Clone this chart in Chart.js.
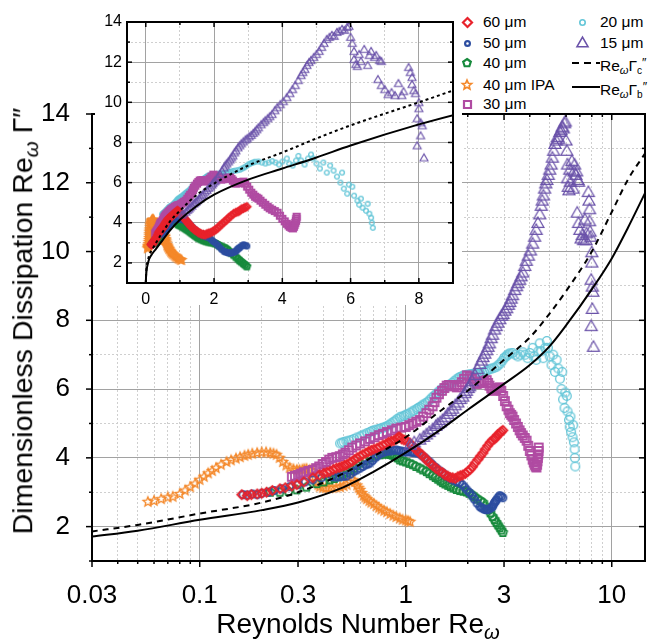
<!DOCTYPE html>
<html>
<head>
<meta charset="utf-8">
<title>Dimensionless dissipation vs Reynolds number</title>
<script src="https://cdn.jsdelivr.net/npm/chart.js@4.4.1/dist/chart.umd.min.js"></script>
<style>
html, body { margin: 0; padding: 0; background: #fff; }
body { font-family: 'Liberation Sans', Arial, Helvetica, sans-serif; color: #000; }
#wrap { position: relative; width: 651px; height: 641px; overflow: hidden; }
#main { position: absolute; left: 0; top: 0; }
#inset { position: absolute; left: 95px; top: 0; background: #fff; }
#legend { position: absolute; left: 455px; top: 0; width: 196px; height: 112px; background: #fff; font-size: 15.5px; }
.row { position: absolute; white-space: nowrap; line-height: 16px; }
.sym { position: absolute; }
.title { position: absolute; white-space: nowrap; line-height: 1; }
#xtitle { left: 358px; top: 626px; font-size: 28px; transform: translate(-50%, -50%); }
#ytitle { left: 25px; top: 321px; font-size: 28.5px; transform: translate(-50%, -50%) rotate(-90deg); }
.w { font-style: italic; font-size: 0.72em; vertical-align: -0.3em; }
.s { font-size: 0.65em; vertical-align: -0.3em; }
.p { font-size: 0.8em; vertical-align: 0.3em; }
</style>
</head>
<body>
<div id="wrap">
  <canvas id="main" width="651" height="641"></canvas>
  <canvas id="inset" width="367" height="305"></canvas>
  <div id="legend"></div>
  <div class="title" id="ytitle">Dimensionless Dissipation Re<span class="w">ω</span> Γ″</div>
  <div class="title" id="xtitle">Reynolds Number Re<span class="w">ω</span></div>
</div>
<script>
const FONT = "'Liberation Sans', Arial, Helvetica, sans-serif";

// [Re_omega, Re_omega * Gamma''] per film thickness
const s60 = [[0.16,2.93],[0.17,2.9],[0.178,2.93],[0.19,2.95],[0.2,2.97],[0.211,3.0],[0.225,3.05],[0.245,3.1],[0.26,3.13],[0.28,3.18],
  [0.296,3.22],[0.32,3.3],[0.354,3.42],[0.38,3.5],[0.4,3.55],[0.415,3.58],[0.428,3.6],[0.445,3.66],[0.46,3.7],[0.475,3.72],
  [0.49,3.75],[0.505,3.78],[0.517,3.8],[0.535,3.86],[0.55,3.9],[0.565,3.95],[0.58,4.0],[0.6,4.05],[0.618,4.09],[0.64,4.14],
  [0.66,4.18],[0.68,4.22],[0.7,4.25],[0.725,4.28],[0.748,4.32],[0.775,4.37],[0.8,4.4],[0.825,4.45],[0.85,4.48],[0.875,4.5],
  [0.904,4.55],[0.92,4.6],[0.935,4.6],[0.955,4.55],[0.98,4.52],[1.01,4.5],[1.046,4.43],[1.07,4.36],[1.1,4.3],[1.13,4.22],
  [1.17,4.14],[1.2,4.08],[1.24,4.0],[1.27,3.92],[1.31,3.85],[1.35,3.78],[1.4,3.7],[1.45,3.62],[1.51,3.57],[1.55,3.5],
  [1.6,3.47],[1.64,3.43],[1.69,3.42],[1.74,3.4],[1.79,3.45],[1.84,3.48],[1.89,3.5],[1.95,3.55],[2.0,3.6],[2.05,3.66],
  [2.11,3.74],[2.17,3.85],[2.24,3.95],[2.3,4.05],[2.37,4.14],[2.43,4.25],[2.5,4.35],[2.57,4.45],[2.64,4.52],[2.7,4.55],
  [2.75,4.6],[2.8,4.68],[2.86,4.72],[2.91,4.76],[2.96,4.8]];

const s50 = [[0.162,2.93],[0.17,2.92],[0.18,2.95],[0.19,2.93],[0.2,2.97],[0.215,3.0],[0.23,3.05],[0.25,3.1],[0.273,3.16],[0.3,3.22],
  [0.325,3.3],[0.354,3.36],[0.39,3.42],[0.44,3.45],[0.46,3.44],[0.48,3.45],[0.5,3.46],[0.517,3.47],[0.54,3.53],[0.56,3.6],
  [0.58,3.65],[0.6,3.7],[0.62,3.75],[0.64,3.8],[0.655,3.82],[0.67,3.85],[0.69,3.92],[0.71,4.0],[0.73,4.06],[0.75,4.12],
  [0.775,4.15],[0.8,4.18],[0.825,4.2],[0.85,4.2],[0.875,4.22],[0.9,4.23],[0.925,4.21],[0.95,4.2],[0.975,4.18],[1.0,4.17],
  [1.025,4.18],[1.05,4.17],[1.075,4.16],[1.1,4.15],[1.135,4.14],[1.17,4.12],[1.2,4.06],[1.24,4.0],[1.27,3.94],[1.31,3.88],
  [1.35,3.8],[1.4,3.72],[1.45,3.64],[1.51,3.57],[1.55,3.5],[1.6,3.45],[1.65,3.4],[1.7,3.35],[1.77,3.3],[1.83,3.28],
  [1.88,3.22],[1.93,3.15],[1.98,3.07],[2.04,2.99],[2.1,2.9],[2.15,2.8],[2.22,2.68],[2.29,2.58],[2.33,2.55],[2.38,2.52],
  [2.42,2.5],[2.47,2.49],[2.51,2.5],[2.55,2.52],[2.6,2.55],[2.64,2.58],[2.67,2.65],[2.7,2.7],[2.73,2.74],[2.76,2.78],
  [2.81,2.85],[2.86,2.9],[2.91,2.88],[2.96,2.84]];

const s40 = [[0.22,3.0],[0.245,3.0],[0.27,3.02],[0.296,3.07],[0.33,3.15],[0.37,3.25],[0.4,3.3],[0.428,3.36],[0.45,3.4],[0.47,3.45],
  [0.495,3.52],[0.52,3.58],[0.54,3.64],[0.56,3.7],[0.58,3.78],[0.6,3.85],[0.635,3.92],[0.67,4.0],[0.71,4.05],[0.75,4.09],
  [0.775,4.11],[0.8,4.12],[0.82,4.11],[0.84,4.1],[0.86,4.08],[0.88,4.05],[0.91,4.0],[0.935,3.94],[0.965,3.91],[1.0,3.88],
  [1.04,3.84],[1.08,3.8],[1.12,3.75],[1.17,3.7],[1.21,3.65],[1.26,3.6],[1.3,3.54],[1.35,3.48],[1.39,3.43],[1.43,3.38],
  [1.47,3.33],[1.51,3.28],[1.55,3.24],[1.6,3.2],[1.65,3.16],[1.7,3.12],[1.76,3.08],[1.83,3.05],[1.9,3.03],[1.97,3.01],
  [2.03,2.97],[2.1,2.92],[2.16,2.86],[2.23,2.8],[2.3,2.75],[2.37,2.7],[2.43,2.6],[2.5,2.5],[2.57,2.4],[2.64,2.29],
  [2.7,2.2],[2.75,2.12],[2.8,2.05],[2.86,1.97],[2.91,1.9],[2.96,1.83]];

const s40ipa = [[0.056,2.72],[0.06,2.75],[0.065,2.8],[0.07,2.85],[0.074,2.87],[0.08,2.95],[0.085,3.05],[0.09,3.15],[0.095,3.25],[0.1,3.36],
  [0.105,3.45],[0.11,3.55],[0.115,3.62],[0.12,3.7],[0.127,3.8],[0.135,3.88],[0.142,3.93],[0.15,3.98],[0.157,4.02],[0.165,4.06],
  [0.172,4.09],[0.18,4.12],[0.19,4.14],[0.2,4.16],[0.21,4.16],[0.22,4.14],[0.228,4.12],[0.236,4.09],[0.244,4.0],[0.253,3.88],
  [0.263,3.78],[0.273,3.71],[0.285,3.67],[0.296,3.65],[0.305,3.65],[0.315,3.66],[0.322,3.67],[0.33,3.68],[0.342,3.65],[0.354,3.6],
  [0.362,3.45],[0.37,3.3],[0.376,3.22],[0.382,3.16],[0.395,3.13],[0.41,3.12],[0.425,3.12],[0.44,3.13],[0.46,3.14],[0.48,3.15],
  [0.5,3.18],[0.517,3.22],[0.535,3.3],[0.553,3.36],[0.565,3.3],[0.58,3.2],[0.59,3.13],[0.6,3.07],[0.612,2.98],[0.625,2.9],
  [0.636,2.85],[0.647,2.8],[0.665,2.75],[0.68,2.7],[0.7,2.66],[0.72,2.6],[0.74,2.55],[0.76,2.5],[0.785,2.46],[0.81,2.42],
  [0.84,2.37],[0.87,2.32],[0.9,2.28],[0.935,2.24],[0.965,2.2],[1.0,2.18],[1.025,2.16],[1.05,2.14]];

const s30 = [[0.28,3.45],[0.29,3.48],[0.3,3.5],[0.31,3.54],[0.32,3.58],[0.337,3.62],[0.354,3.65],[0.367,3.7],[0.38,3.75],[0.395,3.82],
  [0.41,3.88],[0.425,3.95],[0.44,4.0],[0.46,4.02],[0.478,4.05],[0.495,4.1],[0.51,4.15],[0.53,4.22],[0.55,4.3],[0.575,4.36],
  [0.6,4.42],[0.635,4.48],[0.67,4.55],[0.705,4.6],[0.74,4.66],[0.775,4.7],[0.81,4.75],[0.855,4.8],[0.9,4.85],[0.95,4.88],
  [1.0,4.9],[1.04,4.95],[1.08,5.0],[1.125,5.05],[1.17,5.1],[1.215,5.2],[1.26,5.3],[1.3,5.4],[1.35,5.5],[1.38,5.62],
  [1.41,5.75],[1.45,5.85],[1.5,5.95],[1.54,6.03],[1.58,6.1],[1.62,6.12],[1.67,6.12],[1.72,6.08],[1.77,6.05],[1.82,6.12],
  [1.87,6.2],[1.92,6.3],[1.98,6.4],[2.04,6.36],[2.1,6.3],[2.15,6.22],[2.21,6.15],[2.27,6.17],[2.34,6.2],[2.4,6.24],
  [2.47,6.26],[2.51,6.18],[2.55,6.1],[2.6,6.02],[2.64,5.95],[2.7,5.97],[2.75,6.0],[2.8,6.03],[2.86,6.05],[2.91,5.95],
  [2.97,5.8],[3.03,5.65],[3.09,5.5],[3.15,5.4],[3.2,5.3],[3.25,5.25],[3.3,5.2],[3.36,5.1],[3.43,5.0],[3.5,4.9],
  [3.57,4.8],[3.63,4.72],[3.7,4.65],[3.78,4.58],[3.86,4.5],[3.93,4.35],[4.0,4.2],[4.07,4.07],[4.13,3.95],[4.18,3.87],
  [4.22,3.8],[4.27,3.75],[4.31,3.72],[4.34,3.8],[4.36,3.9],[4.38,4.0],[4.4,4.1],[4.41,4.2],[4.42,4.3]];

const s20 = [[0.48,4.42],[0.49,4.44],[0.5,4.46],[0.515,4.48],[0.53,4.5],[0.545,4.52],[0.56,4.55],[0.58,4.59],[0.6,4.62],[0.615,4.65],
  [0.63,4.68],[0.65,4.72],[0.67,4.75],[0.685,4.78],[0.7,4.8],[0.72,4.82],[0.74,4.84],[0.76,4.86],[0.78,4.88],[0.795,4.9],
  [0.81,4.92],[0.83,4.96],[0.85,5.0],[0.87,5.04],[0.89,5.08],[0.91,5.13],[0.935,5.18],[0.955,5.2],[0.98,5.22],[1.0,5.25],
  [1.02,5.27],[1.05,5.31],[1.08,5.35],[1.1,5.38],[1.13,5.42],[1.15,5.45],[1.17,5.48],[1.2,5.52],[1.22,5.55],[1.25,5.59],
  [1.28,5.63],[1.31,5.69],[1.34,5.75],[1.37,5.8],[1.4,5.85],[1.43,5.9],[1.46,5.95],[1.49,5.99],[1.52,6.02],[1.56,6.05],
  [1.6,6.08],[1.64,6.13],[1.68,6.18],[1.72,6.23],[1.76,6.28],[1.8,6.32],[1.83,6.35],[1.88,6.38],[1.92,6.4],[1.96,6.41],
  [2.0,6.42],[2.05,6.43],[2.1,6.44],[2.15,6.45],[2.2,6.45],[2.25,6.46],[2.29,6.47],[2.35,6.48],[2.4,6.5],[2.45,6.52],
  [2.5,6.55],[2.56,6.58],[2.62,6.6],[2.69,6.62],[2.76,6.65],[2.82,6.7],[2.88,6.75],[2.94,6.82],[3.0,6.9],[3.05,6.94],
  [3.1,6.98],[3.15,7.01],[3.2,7.04],[3.3,7.05],[3.4,7.0],[3.5,6.95],[3.6,7.0],[3.7,7.07],[3.8,7.0],[3.9,6.9],
  [4.0,7.05],[4.13,7.2],[4.2,6.95],[4.3,6.85],[4.4,7.1],[4.47,7.33],[4.55,7.1],[4.65,6.9],[4.75,7.2],[4.84,7.4],
  [4.9,7.2],[5.0,6.95],[5.1,6.7],[5.2,7.0],[5.3,6.5],[5.4,6.85],[5.5,6.6],[5.6,6.3],[5.7,6.0],[5.75,6.5],
  [5.8,5.7],[5.9,5.45],[5.95,5.9],[6.05,5.8],[6.1,5.35],[6.2,5.1],[6.25,4.9],[6.3,5.2],[6.35,4.75],[6.45,4.6],
  [6.5,4.95],[6.55,4.45],[6.6,4.25],[6.62,4.0],[6.65,3.75]];

const s15 = [[1.05,4.35],[1.1,4.42],[1.17,4.5],[1.22,4.58],[1.26,4.65],[1.3,4.72],[1.35,4.8],[1.4,4.9],[1.43,4.95],[1.47,5.0],
  [1.51,5.07],[1.56,5.15],[1.6,5.25],[1.65,5.33],[1.69,5.4],[1.74,5.5],[1.79,5.58],[1.84,5.68],[1.89,5.75],[1.94,5.85],
  [1.97,5.92],[2.01,6.0],[2.04,6.05],[2.1,6.2],[2.17,6.38],[2.23,6.55],[2.29,6.7],[2.33,6.8],[2.37,6.9],[2.42,7.0],
  [2.47,7.1],[2.51,7.2],[2.55,7.3],[2.6,7.45],[2.64,7.55],[2.7,7.7],[2.75,7.8],[2.8,7.9],[2.86,8.0],[2.92,8.1],
  [2.97,8.15],[3.03,8.25],[3.09,8.32],[3.15,8.42],[3.2,8.5],[3.25,8.6],[3.3,8.7],[3.38,8.85],[3.45,8.96],[3.5,9.05],
  [3.57,9.15],[3.63,9.25],[3.7,9.36],[3.78,9.55],[3.85,9.7],[3.94,9.85],[4.03,10.0],[4.13,10.2],[4.22,10.4],[4.3,10.6],
  [4.38,10.8],[4.47,11.05],[4.55,11.3],[4.6,11.45],[4.66,11.6],[4.72,11.8],[4.78,11.95],[4.84,12.05],[4.92,12.2],[5.0,12.35],
  [5.08,12.5],[5.15,12.7],[5.22,12.9],[5.3,13.1],[5.38,13.2],[5.45,13.3],[5.52,13.25],[5.6,13.45],[5.67,13.5],[5.75,13.6],
  [5.82,13.55],[5.9,13.7],[5.95,13.75],[6.0,13.2],[6.05,12.9],[6.1,12.5],[6.1,12.1],[6.15,11.85],[6.2,11.75],[6.25,12.35],
  [6.3,12.0],[6.4,12.6],[6.5,11.8],[6.55,12.3],[6.6,12.5],[6.7,12.2],[6.75,12.3],[6.85,12.05],[6.9,12.0],[6.8,11.1],
  [6.9,10.8],[7.0,10.6],[7.1,10.35],[7.2,10.45],[7.3,10.3],[7.4,10.9],[7.5,10.3],[7.55,10.5],[7.7,11.7],[7.75,11.45],
  [7.8,11.2],[7.8,10.85],[7.85,10.55],[7.9,10.4],[8.0,9.95],[8.0,9.65],[7.95,9.15],[8.05,8.95],[8.1,8.8],[8.05,8.3],
  [7.95,7.8],[8.15,7.2]];

// model curves Re_omega*Gamma_b'' and Re_omega*Gamma_c''
const reModel = [0, 0.01, 0.03, 0.05, 0.1, 0.2, 0.3, 0.5, 0.7, 1, 1.5, 2, 3, 4, 5, 6, 8, 10, 12, 14.5];
const gammaB  = [1.0, 1.35, 1.71, 1.88, 2.2, 2.48, 2.7, 3.15, 3.6, 4.15, 4.85, 5.4, 6.15, 6.7, 7.25, 7.85, 8.9, 9.8, 10.7, 11.7];
const gammaC  = [1.0, 1.45, 1.86, 2.05, 2.38, 2.7, 3.0, 3.55, 4.05, 4.6, 5.4, 5.95, 6.85, 7.5, 8.2, 8.85, 10.0, 11.15, 12.1, 12.85];

// ticks
const mainXTicks = [0.03,0.04,0.05,0.06,0.07,0.08,0.09,0.1,0.2,0.3,0.4,0.5,0.6,0.7,0.8,0.9,1,2,3,4,5,6,7,8,9,10];
const mainXLabels = [0.03, 0.1, 0.3, 1, 3, 10];
const mainXDecades = [0.1, 1, 10];
const yTicks = [1,2,3,4,5,6,7,8,9,10,11,12,13,14];
const yLabels = [2,4,6,8,10,12,14];
const insetXTicks = [0,1,2,3,4,5,6,7,8,9];
const insetXLabels = [0,2,4,6,8];

const series = [
  { label: '15 μm',     data: s15,    color: '#6a52a9', shape: 'triangle', size: [12, 8, 11], lw: [1.2, 1.1, 1.6], slot: [1, 1] },
  { label: '60 μm',     data: s60,    color: '#e8222b', shape: 'diamond',  size: [9, 7, 9],   lw: [1.8, 2.2, 2.2], slot: [0, 0] },
  { label: '30 μm',     data: s30,    color: '#b04ba2', shape: 'square',   size: [8, 6, 7],   lw: [1.8, 2.2, 2.2], slot: [0, 4] },
  { label: '50 μm',     data: s50,    color: '#2c4da0', shape: 'circle',   size: [9, 7, 7],   lw: [1.8, 2.2, 2.2], slot: [0, 1] },
  { label: '40 μm',     data: s40,    color: '#178a3c', shape: 'pentagon', size: [9, 7, 8],   lw: [1.8, 2.2, 2.2], slot: [0, 2] },
  { label: '20 μm',     data: s20,    color: '#64c6d8', shape: 'circle',   size: [10, 6, 7],  lw: [1.3, 1.3, 1.6], slot: [1, 0] },
  { label: '40 μm IPA', data: s40ipa, color: '#f4882a', shape: 'star',     size: [10, 8, 10], lw: [1.3, 1.8, 1.6], slot: [0, 3] }
];

function marker(shape, color, size, lw) {
  const pad = Math.ceil(lw) + 1;
  const d = Math.ceil(size) + pad * 2;
  const c = document.createElement('canvas');
  c.width = d; c.height = d;
  const g = c.getContext('2d');
  const m = d / 2, r = size / 2;
  g.strokeStyle = color;
  g.lineWidth = lw;
  g.lineJoin = 'miter';
  g.beginPath();
  if (shape === 'circle') {
    g.arc(m, m, r - lw / 2, 0, Math.PI * 2);
  } else if (shape === 'square') {
    g.rect(m - r, m - r, size, size);
  } else if (shape === 'diamond') {
    g.moveTo(m, m - r); g.lineTo(m + r, m); g.lineTo(m, m + r); g.lineTo(m - r, m); g.closePath();
  } else if (shape === 'triangle') {
    const h = size * 0.866;
    g.moveTo(m, m - h * 2 / 3); g.lineTo(m + r, m + h / 3); g.lineTo(m - r, m + h / 3); g.closePath();
  } else {
    const n = shape === 'star' ? 10 : 5;
    for (let k = 0; k < n; k++) {
      const a = -Math.PI / 2 + k * 2 * Math.PI / n;
      const rr = shape === 'star' && k % 2 ? r * 0.45 : r;
      const px = m + rr * Math.cos(a), py = m + rr * Math.sin(a);
      k ? g.lineTo(px, py) : g.moveTo(px, py);
    }
    g.closePath();
  }
  g.stroke();
  return c;
}

// frame around the plot area plus tick marks on all four sides
const frame = {
  id: 'frame',
  afterDatasetsDraw(chart, args, o) {
    const { ctx, chartArea: a, scales: { x, y } } = chart;
    ctx.save();
    ctx.strokeStyle = '#000';
    ctx.lineWidth = 1.5;
    const mark = (px, py, dx, dy) => { ctx.beginPath(); ctx.moveTo(px, py); ctx.lineTo(px + dx, py + dy); ctx.stroke(); };
    for (const v of o.xTicks) {
      const len = o.xMajor.includes(v) ? o.major : o.minor;
      const px = x.getPixelForValue(v);
      mark(px, a.bottom, 0, o.out ? len : -len);
      mark(px, a.top, 0, len);
    }
    for (const v of o.yTicks) {
      const len = o.yMajor.includes(v) ? o.major : o.minor;
      const py = y.getPixelForValue(v);
      mark(a.left, py, o.out ? -len : len, 0);
      mark(a.right, py, -len, 0);
    }
    ctx.lineWidth = o.width;
    ctx.strokeRect(a.left, a.top, a.right - a.left, a.bottom - a.top);
    ctx.restore();
  }
};

const gridColor = solid => c => (c.tick && solid.includes(c.tick.value)) ? '#a2a2a2' : '#cfcfcf';
const gridDash = solid => c => (c.tick && !solid.includes(c.tick.value)) ? [2, 2] : [];

function datasets(which) {
  const k = which === 'main' ? 0 : 1;
  const keep = p => k === 1 || p.x > 0;
  const curve = (ys, dash) => ({
    data: reModel.map((x, i) => ({ x, y: ys[i] })).filter(keep),
    showLine: true, borderColor: '#000', borderWidth: 2, borderDash: dash,
    pointRadius: 0, cubicInterpolationMode: 'monotone', fill: false
  });
  const sets = [curve(gammaB, []), curve(gammaC, k === 0 ? [6, 5] : [3, 3])];
  for (const s of series) {
    sets.push({
      label: s.label,
      data: s.data.map(([x, y]) => ({ x, y })),
      showLine: false,
      pointStyle: marker(s.shape, s.color, s.size[k], s.lw[k]),
      pointRadius: 3
    });
  }
  return sets;
}

function axis(extra, ticks, labels, solid, size, pad) {
  return Object.assign({
    afterBuildTicks: s => { s.ticks = ticks.map(v => ({ value: v })); },
    ticks: {
      autoSkip: false, maxRotation: 0, padding: pad, color: '#000',
      font: { family: FONT, size },
      callback: v => labels.includes(v) ? String(v) : ''
    },
    grid: { drawTicks: false, lineWidth: 1, color: gridColor(solid) },
    border: { display: false, dash: gridDash(solid) }
  }, extra);
}

const common = {
  responsive: false, animation: false, devicePixelRatio: 1, events: [],
  plugins: { legend: { display: false }, tooltip: { enabled: false } }
};

new Chart(document.getElementById('main'), {
  type: 'scatter',
  data: { datasets: datasets('main') },
  options: Object.assign({}, common, {
    layout: { padding: { top: 114, right: 6, left: 0, bottom: 0 } },
    plugins: Object.assign({}, common.plugins, {
      frame: { xTicks: mainXTicks, xMajor: mainXLabels, yTicks, yMajor: yLabels, out: true, major: 6, minor: 3, width: 2 }
    }),
    scales: {
      x: axis({ type: 'logarithmic', min: 0.03, max: 14.5, afterFit: s => { s.height = 80; } },
        mainXTicks, mainXLabels, mainXDecades, 26, 19),
      y: axis({ type: 'linear', min: 1, max: 14, afterFit: s => { s.width = 92; } },
        yTicks, yLabels, yLabels, 26, 22)
    }
  }),
  plugins: [frame]
});

new Chart(document.getElementById('inset'), {
  type: 'scatter',
  data: { datasets: datasets('inset') },
  options: Object.assign({}, common, {
    layout: { padding: { top: 22, right: 9, left: 0, bottom: 0 } },
    plugins: Object.assign({}, common.plugins, {
      frame: { xTicks: insetXTicks, xMajor: insetXLabels, yTicks, yMajor: yLabels, out: false, major: 5, minor: 3, width: 2 }
    }),
    scales: {
      x: axis({ type: 'linear', min: -0.55, max: 9, afterFit: s => { s.height = 22; } },
        insetXTicks, insetXLabels, insetXLabels, 16, 7),
      y: axis({ type: 'linear', min: 1, max: 14, afterFit: s => { s.width = 32; } },
        yTicks, yLabels, yLabels, 16, 5)
    }
  }),
  plugins: [frame]
});

// legend
const legend = document.getElementById('legend');
const symX = [12, 127], textX = [28, 145];
const rowY = [[22, 43, 63, 85, 104], [22, 43, 63, 87]];
function place(el, left, top) { el.style.left = left + 'px'; el.style.top = top + 'px'; legend.appendChild(el); }
for (const s of series) {
  const [col, row] = s.slot;
  const cy = rowY[col][row];
  const m = marker(s.shape, s.color, s.size[2], s.lw[2]);
  m.className = 'sym';
  place(m, symX[col] - m.width / 2, cy - m.height / 2);
  const t = document.createElement('div');
  t.className = 'row';
  t.textContent = s.label;
  place(t, textX[col], cy - 8);
}
const curveRows = [{ dash: [7, 5], sub: 'c', row: 2 }, { dash: [], sub: 'b', row: 3 }];
for (const c of curveRows) {
  const cy = rowY[1][c.row];
  const cv = document.createElement('canvas');
  cv.width = 28; cv.height = 4; cv.className = 'sym';
  const g = cv.getContext('2d');
  g.strokeStyle = '#000'; g.lineWidth = 2; g.setLineDash(c.dash);
  g.beginPath(); g.moveTo(0, 2); g.lineTo(28, 2); g.stroke();
  place(cv, 117, cy - 2);
  const t = document.createElement('div');
  t.className = 'row';
  t.innerHTML = 'Re<span class="w">ω</span>Γ<span class="s">' + c.sub + '</span><span class="p">″</span>';
  place(t, textX[1], cy - 8);
}
</script>
</body>
</html>
